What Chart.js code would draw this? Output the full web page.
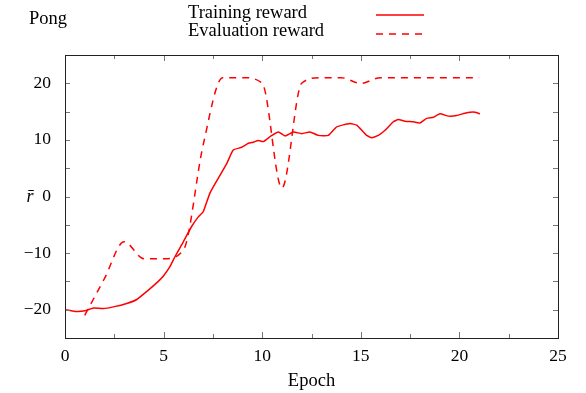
<!DOCTYPE html>
<html>
<head>
<meta charset="utf-8">
<title>Pong</title>
<script src="https://cdn.jsdelivr.net/npm/chart.js@4.4.1/dist/chart.umd.min.js"></script>
<style>
  body { margin: 0; background: #fff; }
  #wrap { width: 586px; height: 393px; position: relative; }
</style>
</head>
<body>
<div id="wrap"><canvas id="chart"></canvas></div>
<script>
// data
let trainEpochs = [0.00, 0.51, 1.01, 1.44, 1.94, 2.45, 3.13, 3.64, 4.14, 4.73, 4.98, 5.32, 5.58, 6.00,
  6.42, 6.76, 7.01, 7.35, 7.77, 8.20, 8.53, 8.96, 9.30, 9.55, 9.80, 10.06, 10.45, 10.82, 11.16,
  11.58, 12.00, 12.42, 12.84, 13.35, 13.78, 14.45, 14.79, 15.13, 15.30, 15.55, 15.89, 16.23,
  16.65, 16.90, 17.24, 17.66, 18.00, 18.34, 18.68, 19.02, 19.44, 19.86, 20.37, 20.79, 21.04];
let trainReward = [-20.0, -20.3, -20.2, -19.7, -19.8, -19.5, -18.9, -18.2, -16.8, -15.0, -14.1, -12.4, -10.6, -8.0,
  -5.3, -3.6, -2.7, 0.6, 3.2, 5.8, 8.2, 8.7, 9.4, 9.6, 9.9, 9.7, 10.7, 11.4, 10.7,
  11.4, 11.1, 11.4, 10.8, 10.8, 12.3, 12.9, 12.6, 11.4, 10.8, 10.4, 10.8, 11.7,
  13.2, 13.6, 13.3, 13.2, 13.0, 13.8, 14.0, 14.6, 14.2, 14.3, 14.8, 14.9, 14.6];

let evalEpochs = [1, 2, 3, 4, 5, 6, 7, 8, 9, 10, 11, 12, 13, 14, 15, 16, 17, 18, 19, 20, 21];
let evalReward = [-21, -14.5, -8, -11, -11, -9.5, 9, 21, 21, 20, 1.5, 20, 21, 21, 20, 21, 21, 21, 21, 21, 21];

let xTicks = [0, 5, 10, 15, 20, 25];
let yTicks = [-20, -10, 0, 10, 20];

let serif = "'Liberation Serif', 'DejaVu Serif', serif";
let red = "#ff0000";

// build {x,y} points from the arrays
function toPoints(xs, ys) {
  return xs.map((x, i) => ({ x: x, y: ys[i] }));
}

// frame, inward ticks, legend and labels (gnuplot look)
const decorPlugin = {
  id: 'decor',
  afterDraw(chart) {
    let ctx = chart.ctx;
    let xs = chart.scales.x;
    let ys = chart.scales.y;
    let a = chart.chartArea;
    ctx.save();

    // ticks
    ctx.strokeStyle = "#777";
    ctx.lineWidth = 1;
    for (let v = 0; v <= 25; v += 2.5) {
      let px = Math.round(xs.getPixelForValue(v)) + 0.5;
      let len = (v % 5 == 0) ? 6 : 4;
      ctx.beginPath();
      ctx.moveTo(px, a.bottom); ctx.lineTo(px, a.bottom - len);
      ctx.moveTo(px, a.top); ctx.lineTo(px, a.top + len);
      ctx.stroke();
    }
    for (let v = -25; v <= 25; v += 5) {
      let py = Math.round(ys.getPixelForValue(v)) + 0.5;
      ctx.beginPath();
      ctx.moveTo(a.left, py); ctx.lineTo(a.left + 5, py);
      ctx.moveTo(a.right, py); ctx.lineTo(a.right - 5, py);
      ctx.stroke();
    }

    // frame
    ctx.strokeStyle = "#222";
    ctx.strokeRect(Math.round(a.left) + 0.5, Math.round(a.top) + 0.5,
      Math.round(a.right - a.left), Math.round(a.bottom - a.top));

    // texts
    ctx.fillStyle = "#000";
    ctx.font = "18.5px " + serif;
    ctx.textBaseline = "middle";
    ctx.textAlign = "left";
    ctx.fillText("Pong", 29, 19);
    ctx.fillText("Training reward", 188, 13);
    ctx.fillText("Evaluation reward", 188, 31);
    ctx.textAlign = "center";
    ctx.fillText("Epoch", (a.left + a.right) / 2, 381);
    ctx.font = "italic 18px " + serif;
    ctx.fillText("r\u0304", 30, 197);

    // legend samples
    ctx.strokeStyle = red;
    ctx.lineWidth = 1.5;
    ctx.beginPath();
    ctx.moveTo(376, 15); ctx.lineTo(424, 15);
    ctx.stroke();
    ctx.setLineDash([7, 6]);
    ctx.beginPath();
    ctx.moveTo(376, 34); ctx.lineTo(424, 34);
    ctx.stroke();
    ctx.restore();
  }
};

let theChart = new Chart(document.getElementById("chart"), {
  type: 'line',
  data: {
    datasets: [
      {
        label: "Training reward",
        data: toPoints(trainEpochs, trainReward),
        borderColor: red,
        borderWidth: 1.5,
        pointRadius: 0,
        tension: 0.15,
        fill: false
      },
      {
        label: "Evaluation reward",
        data: toPoints(evalEpochs, evalReward),
        borderColor: red,
        borderWidth: 1.5,
        borderDash: [7, 6],
        pointRadius: 0,
        cubicInterpolationMode: 'monotone',
        fill: false
      }
    ]
  },
  options: {
    responsive: true,
    maintainAspectRatio: false,
    animation: false,
    layout: { padding: { top: 55, right: 28, left: 0, bottom: 0 } },
    plugins: {
      legend: { display: false },
      tooltip: { enabled: false }
    },
    scales: {
      x: {
        type: 'linear',
        min: 0,
        max: 25,
        grid: { display: false, drawTicks: false },
        border: { display: false },
        afterFit: s => { s.height = 55; },
        afterBuildTicks: s => { s.ticks = xTicks.map(v => ({ value: v })); },
        ticks: {
          padding: 8,
          color: "#000",
          font: { family: serif, size: 17.5 },
          maxRotation: 0
        }
      },
      y: {
        type: 'linear',
        min: -25,
        max: 25,
        grid: { display: false, drawTicks: false },
        border: { display: false },
        afterFit: s => { s.width = 65; },
        afterBuildTicks: s => { s.ticks = yTicks.map(v => ({ value: v })); },
        ticks: {
          padding: 14,
          color: "#000",
          font: { family: serif, size: 17.5 },
          callback: v => (v < 0 ? "\u2212" + Math.abs(v) : "" + v)
        }
      }
    }
  },
  plugins: [decorPlugin]
});
</script>
</body>
</html>
